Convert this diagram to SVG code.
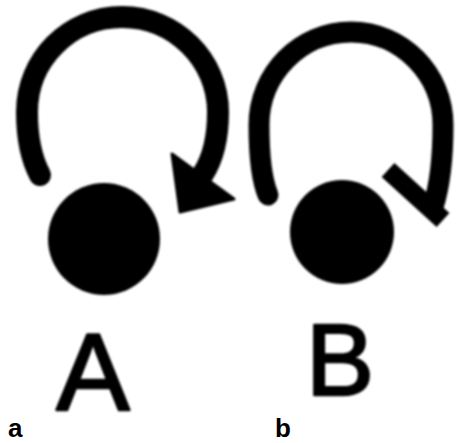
<svg xmlns="http://www.w3.org/2000/svg" width="457" height="443" viewBox="0 0 457 443">
  <style>
    .loop { fill: none; stroke: #000; stroke-width: 22; stroke-linecap: round; stroke-linejoin: round; }
    .head { fill: #000; stroke: #000; stroke-width: 3; stroke-linejoin: round; }
    .barb { fill: none; stroke: #000; stroke-width: 19; stroke-linecap: butt; }
    .node { fill: #000; }
    .big { font-family: "Liberation Sans", Arial, sans-serif; fill: #000; stroke: #000; stroke-width: 2.5; stroke-linejoin: round; }
    .panel { font-family: "Liberation Sans", Arial, sans-serif; font-weight: bold; font-size: 26px; fill: #000; }
  </style>
  <defs>
    <filter id="soft" x="-10%" y="-10%" width="120%" height="120%">
      <feGaussianBlur stdDeviation="0.8"/>
    </filter>
  </defs>
  <rect width="457" height="443" fill="#fff"/>
  <g filter="url(#soft)">
    <g id="connectors">
      <g id="loop-a">
        <path class="loop" d="M40,175 C32,160 27,140 27,112 C27,60 69,17 122,17 C175,17 218,60 218,112 C218,140 212,160 203,174"/>
        <polygon class="head" points="172,154 234,199 180,212"/>
      </g>
      <g id="loop-b">
        <path class="loop" style="stroke-width:21" d="M268,195 C263,183 259,160 259,125 C259,74 300,32 351,32 C402,32 443,74 443,125 C443,160 440,185 433,207"/>
        <line class="barb" x1="388" y1="170" x2="443" y2="220"/>
      </g>
    </g>
    <g id="node-A">
      <circle class="node" cx="104" cy="239" r="56"/>
      <text class="big" x="93" y="410" font-size="110" text-anchor="middle">A</text>
    </g>
    <g id="node-B">
      <circle class="node" cx="342" cy="232" r="52"/>
      <text class="big" x="306" y="395" font-size="102">B</text>
    </g>
  </g>
  <g id="panel-a">
    <text class="panel" x="8" y="437">a</text>
  </g>
  <g id="panel-b">
    <text class="panel" x="275" y="437">b</text>
  </g>
</svg>
